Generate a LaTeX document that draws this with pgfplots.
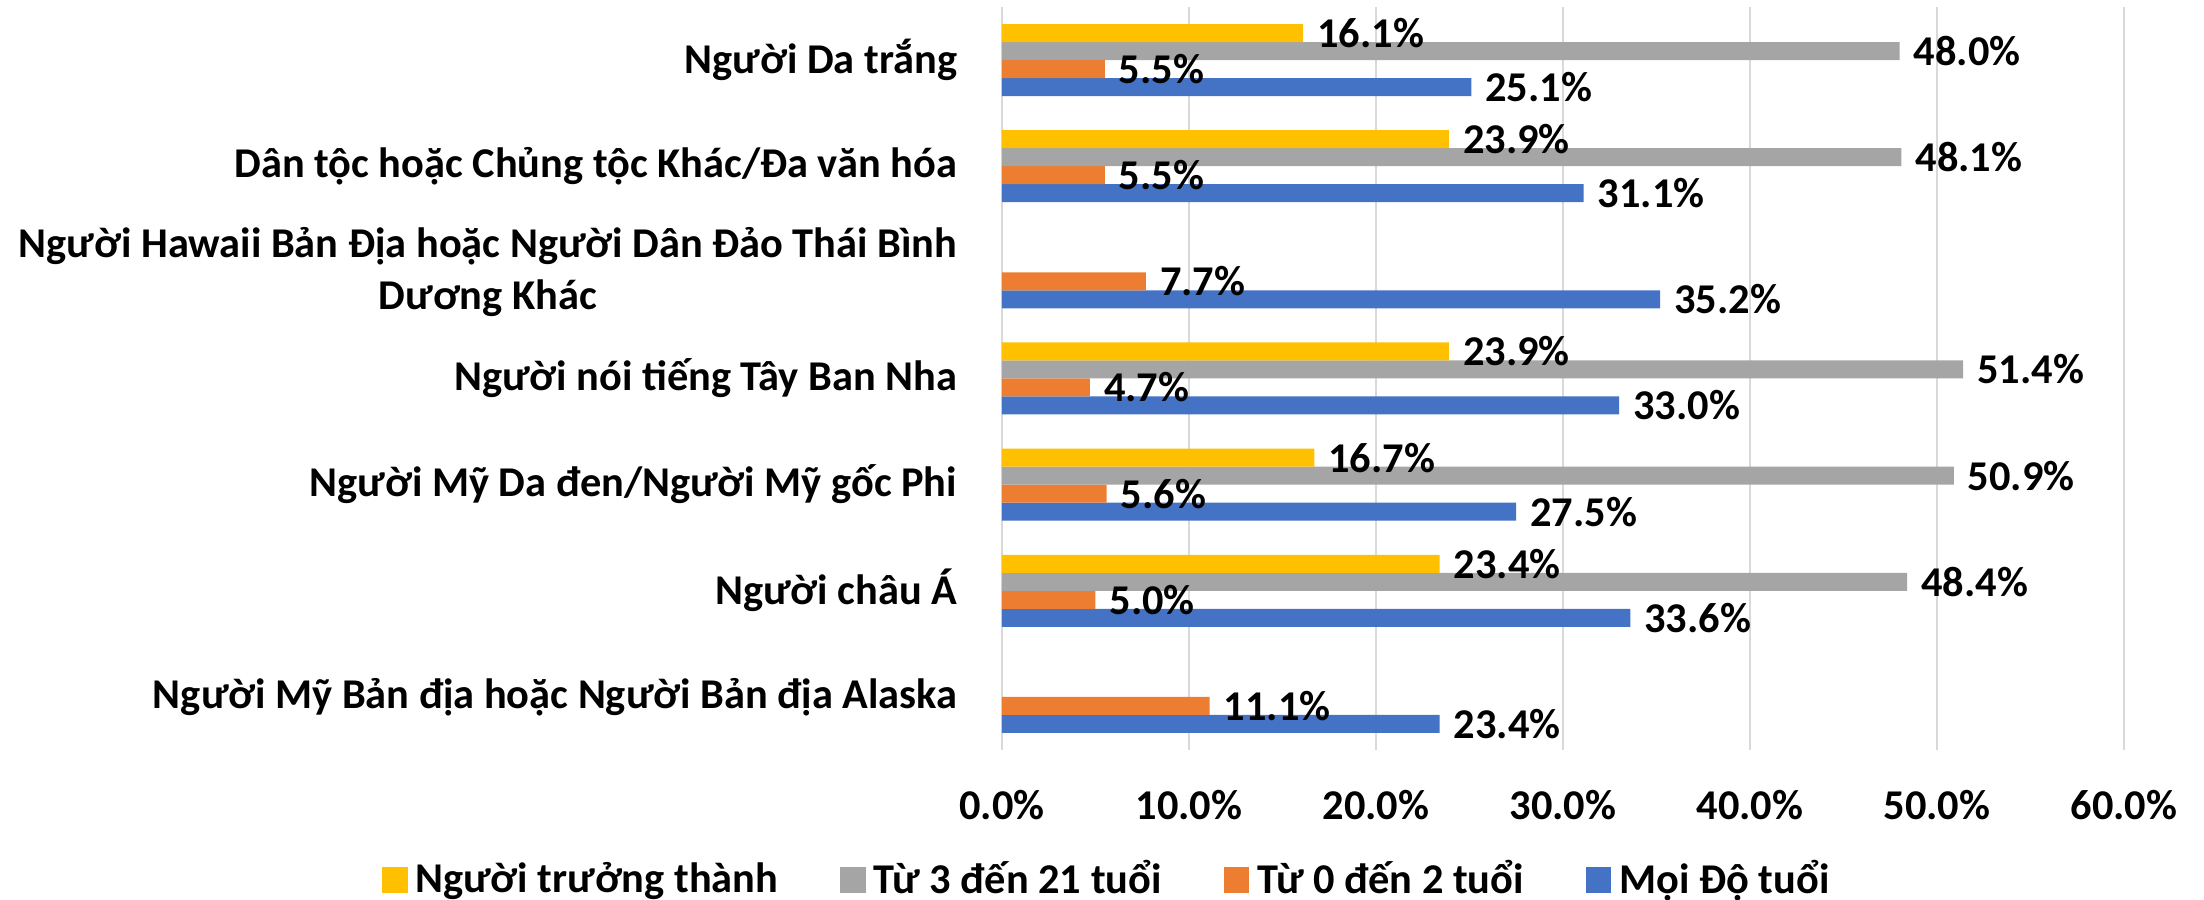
\documentclass[border=0pt]{standalone}
\usepackage{fontspec}
\setmainfont{Carlito}
\usepackage{pgfplots}
\pgfplotsset{compat=1.18}
\definecolor{cY}{HTML}{FFC000}
\definecolor{cG}{HTML}{A5A5A5}
\definecolor{cO}{HTML}{ED7D31}
\definecolor{cB}{HTML}{4472C4}
\definecolor{gridc}{HTML}{D9D9D9}
\newcommand{\lab}{\fontsize{10.6}{13}\selectfont\bfseries}
\begin{document}
\begin{tikzpicture}
\begin{axis}[
  xbar,
  scale only axis,
  width=280.5pt, height=185.75pt,
  xmin=0, xmax=60, ymin=-0.5, ymax=6.5,
  xtick={0,10,...,60},
  xticklabel={\pgfmathprintnumber[fixed,fixed zerofill,precision=1]{\tick}\%},
  ytick={0,1,2,3,4,5,6},
  yticklabels={
    Người Mỹ Bản địa hoặc Người Bản địa Alaska,
    Người châu Á,
    Người Mỹ Da đen/Người Mỹ gốc Phi,
    Người nói tiếng Tây Ban Nha,
    {Người Hawaii Bản Địa hoặc Người Dân Đảo Thái Bình\\Dương Khác},
    Dân tộc hoặc Chủng tộc Khác/Đa văn hóa,
    Người Da trắng},
  axis line style={draw=none},
  major tick length=0pt,
  xmajorgrids,
  grid style={draw=gridc, line width=0.6pt},
  ticklabel style={font=\lab},
  /pgf/number format/assume math mode=true,
  yticklabel style={align=center, xshift=-7.7pt},
  xticklabel style={yshift=-6.5pt},
  bar width=4.5pt,
  point meta=x,
  nodes near coords={\pgfmathprintnumber[fixed,fixed zerofill,precision=1]{\pgfplotspointmeta}\%},
  nodes near coords style={font=\lab, text=black, anchor=west},
  legend style={at={(0.096,-0.175)}, anchor=center, legend columns=4, draw=none,
    font=\lab, /tikz/every even column/.append style={column sep=13.5pt}},
  clip=false,
]
\addplot[fill=cB, draw=none, bar shift=-6.75pt, forget plot] coordinates {
  (23.4,0) (33.6,1) (27.5,2) (33.0,3) (35.2,4) (31.1,5) (25.1,6)};
\addplot[fill=cO, draw=none, bar shift=-2.25pt, forget plot] coordinates {
  (11.1,0) (5.0,1) (5.6,2) (4.7,3) (7.7,4) (5.5,5) (5.5,6)};
\addplot[fill=cG, draw=none, bar shift=2.25pt, forget plot] coordinates {
  (48.4,1) (50.9,2) (51.4,3) (48.1,5) (48.0,6)};
\addplot[fill=cY, draw=none, bar shift=6.75pt, forget plot] coordinates {
  (23.4,1) (16.7,2) (23.9,3) (23.9,5) (16.1,6)};
\addlegendimage{legend image code/.code={\fill[cY] (0pt,-3pt) rectangle (6pt,3pt);}}
\addlegendentry{Người trưởng thành}
\addlegendimage{legend image code/.code={\fill[cG] (0pt,-3pt) rectangle (6pt,3pt);}}
\addlegendentry{Từ 3 đến 21 tuổi}
\addlegendimage{legend image code/.code={\fill[cO] (0pt,-3pt) rectangle (6pt,3pt);}}
\addlegendentry{Từ 0 đến 2 tuổi}
\addlegendimage{legend image code/.code={\fill[cB] (0pt,-3pt) rectangle (6pt,3pt);}}
\addlegendentry{Mọi Độ tuổi}
\coordinate (BL) at (rel axis cs:0,0);
\coordinate (TR) at (rel axis cs:1,1);
\end{axis}
\pgfresetboundingbox
\path ([xshift=-250.5pt,yshift=-37.5pt]BL) rectangle ([xshift=20pt,yshift=1.75pt]TR);
\end{tikzpicture}
\end{document}
